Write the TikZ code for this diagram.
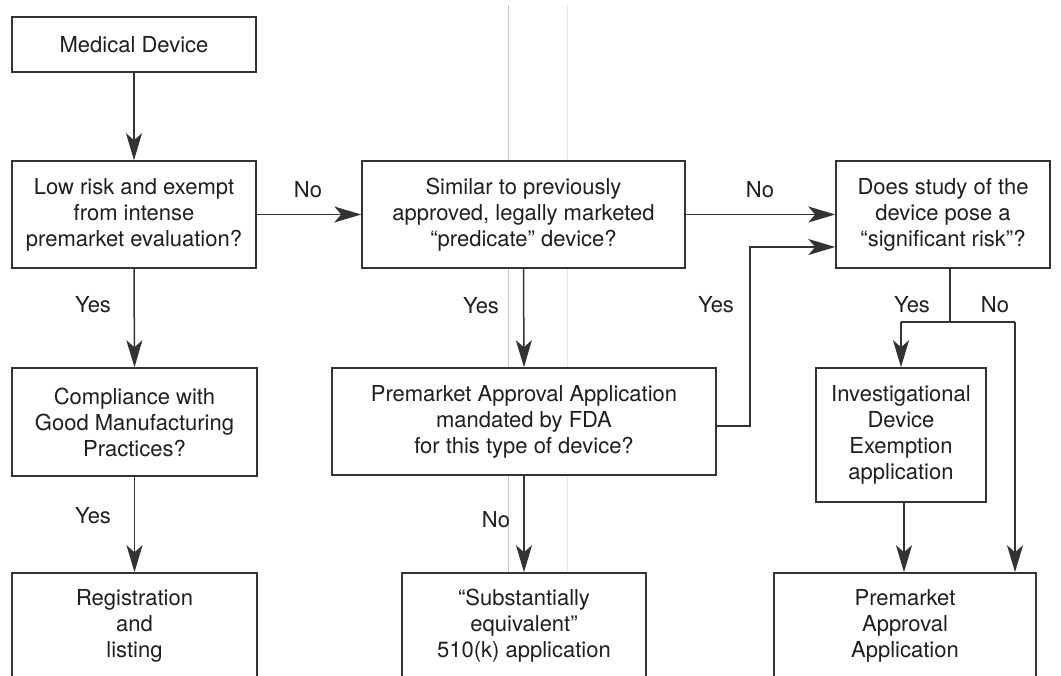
\documentclass[tikz,border=0pt]{standalone}
\usepackage{fontspec}
\setmainfont{TeX Gyre Heros}
\usetikzlibrary{arrows.meta}
\begin{document}
\begin{tikzpicture}[x=1pt,y=-1pt,
  box/.style={draw=black!80,line width=1.5pt,fill=white,inner sep=0pt,align=center,
    font=\fontsize{22}{26}\selectfont,text=black!88},
  lbl/.style={font=\fontsize{22}{26}\selectfont,text=black!88,inner sep=0pt},
  arr/.style={draw=black!80,line width=1.5pt,-{Stealth[length=27pt,width=16pt,inset=7pt]}},
  ln/.style={draw=black!80,line width=1.5pt}]
\useasboundingbox (0,0) rectangle (1061,676);
\clip (0,0) rectangle (1061,676);
\fill[white] (0,0) rectangle (1061,676);
% faint scan gutter lines
\draw[black!22,line width=1pt] (508,5) -- (508,573);
\draw[black!10,line width=1pt] (567,5) -- (567,573);
% boxes
\node[box,minimum width=244pt,minimum height=55pt] (md) at (134,44.5) {Medical Device};
\node[box,minimum width=244pt,minimum height=107pt] (lr) at (134,214.5) {Low risk and exempt\\from intense\\premarket evaluation?};
\node[box,minimum width=323pt,minimum height=107pt] (sim) at (523.5,214.5) {Similar to previously\\approved, legally marketed\\``predicate'' device?};
\node[box,minimum width=214pt,minimum height=107pt] (sig) at (943,214.5) {Does study of the\\device pose a\\``significant risk''?};
\node[box,minimum width=245pt,minimum height=108pt] (comp) at (134.5,422) {Compliance with\\Good Manufacturing\\Practices?};
\node[box,minimum width=384pt,minimum height=107pt] (pma) at (524,421.5) {Premarket Approval Application\\mandated by FDA\\for this type of device?};
\node[box,minimum width=170pt,minimum height=134pt] (ide) at (901,435) {Investigational\\Device\\Exemption\\application};
\node[box,minimum width=245pt,minimum height=106pt] (reg) at (134.5,626) {Registration\\and\\listing};
\node[box,minimum width=244pt,minimum height=106pt] (sub) at (524,626) {``Substantially\\equivalent''\\510(k) application};
\node[box,minimum width=262pt,minimum height=106pt] (fpma) at (905,626) {Premarket\\Approval\\Application};
% connectors
\draw[arr] (md.south) -- (lr.north);
\draw[arr] (lr.east) -- (sim.west);
\draw[arr] (sim.east) -- (sig.west);
\draw[arr] (lr.south) -- (comp.north);
\draw[arr] (comp.south) -- (reg.north);
\draw[arr] (sim.south) -- (pma.north);
\draw[arr] (pma.south) -- (sub.north);
\coordinate (j1) at (750,247);
\draw[arr] ([yshift=-4.5pt]pma.east) -| (j1) -- (j1 -| sig.west);
\coordinate (s0) at (950,268);
\coordinate (s1) at (950,322);
\coordinate (bl) at (901,322);
\coordinate (br) at (1015,322);
\draw[ln] (s0) -- (s1);
\draw[ln] (bl) -- (br);
\draw[arr] (bl) -- (ide.north -| bl);
\draw[arr] (br) -- (fpma.north -| br);
\draw[arr] (ide.south -| 904,0) -- (fpma.north -| 904,0);
% labels
\node[lbl] (l1) at (308,190) {No};
\node[lbl] (l2) at (760,190) {No};
\node[lbl] (l3) at (93,305) {Yes};
\node[lbl] (l4) at (93,516) {Yes};
\node[lbl] (l5) at (481,306) {Yes};
\node[lbl] (l6) at (716,305) {Yes};
\node[lbl] (l7) at (496,520) {No};
\node[lbl] (l8) at (912,305) {Yes};
\node[lbl] (l9) at (995,305) {No};
\end{tikzpicture}
\end{document}
